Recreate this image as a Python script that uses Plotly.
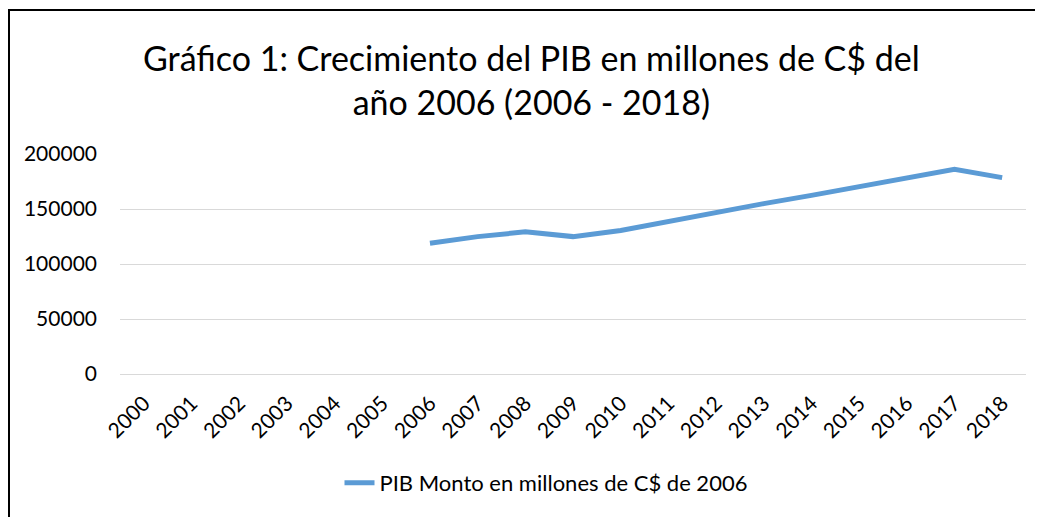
import plotly.graph_objects as go

years = [str(y) for y in range(2000, 2019)]
pib = [None, None, None, None, None, None,
       118800, 124900, 129200, 124900, 130400, 138700, 147700,
       154900, 162400, 170100, 177900, 186100, 178500]
series_name = "PIB Monto en millones de C$ de 2006"
title_text = "Gráfico 1: Crecimiento del PIB en millones de C$ del<br>año 2006 (2006 - 2018)"
y_ticks = [0, 50000, 100000, 150000, 200000]

W, H = 1043, 517
OFF = 8  # page body margin offset
ml, mt = 120 - OFF, 154 - OFF
pw, ph = 906, 220
mr, mb = W - ml - pw, H - mt - ph

fig = go.Figure()
fig.add_trace(go.Scatter(
    x=years, y=pib, mode="lines", name=series_name,
    line=dict(color="#5B9BD5", width=5), connectgaps=False,
))

fig.update_layout(
    width=W, height=H,
    margin=dict(l=ml, r=mr, t=mt, b=mb, autoexpand=False),
    paper_bgcolor="white", plot_bgcolor="white",
    font=dict(family="Lato, Calibri, sans-serif", color="#000000"),
    showlegend=True,
    legend=dict(orientation="h", xref="container", x=(546 - OFF) / W, xanchor="center",
                yref="container", y=1 - (483 - OFF) / H, yanchor="middle",
                font=dict(size=22), bgcolor="rgba(0,0,0,0)"),
    xaxis=dict(type="category", categoryorder="array", categoryarray=years,
               range=[-0.5, 18.5], automargin=False,
               tickangle=-45, tickfont=dict(size=21), showgrid=False,
               showline=False, ticks="", zeroline=False, ticklabelstandoff=12),
    yaxis=dict(range=[0, 200000], tickvals=y_ticks, ticktext=[str(v) for v in y_ticks],
               automargin=False,
               tickfont=dict(size=21), showgrid=True, gridcolor="#D9D9D9",
               gridwidth=1, zeroline=True, zerolinecolor="#D9D9D9", zerolinewidth=1,
               showline=False, ticks="", ticklabelstandoff=22),
)

# chart title (two lines)
fig.add_annotation(text=title_text, xref="paper", yref="paper",
                   x=(531 - 120) / pw, y=(374 - 79) / ph, xanchor="center", yanchor="middle",
                   showarrow=False, font=dict(size=34, color="#000000"))

# chart-area border (left and top edges visible in the reference)
x0 = (1 - ml) / pw
y1 = (mt + ph - 2) / ph
fig.add_shape(type="rect", xref="paper", yref="paper", x0=x0, x1=1.2, y0=-1.0, y1=y1,
              line=dict(color="#000000", width=2), fillcolor="rgba(0,0,0,0)", layer="below")

fig.write_html("out.html")
